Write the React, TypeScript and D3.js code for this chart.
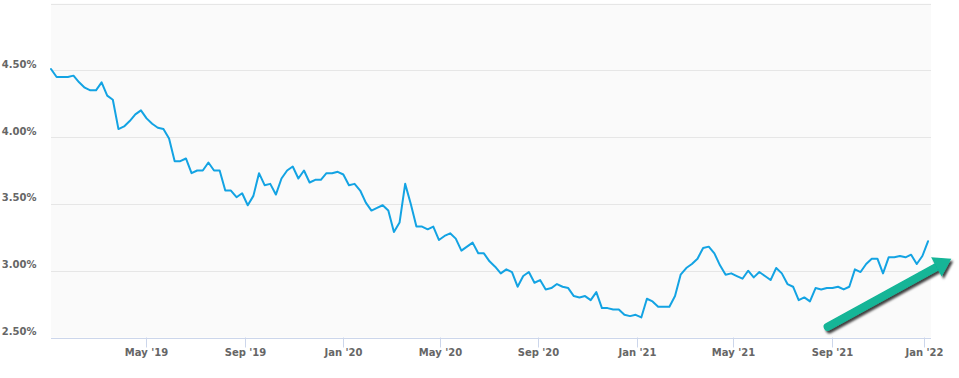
import React from "react";
import * as d3 from "d3";

const dates: string[] = [
  "2019-01-03","2019-01-10","2019-01-17","2019-01-24","2019-01-31","2019-02-07","2019-02-14","2019-02-21","2019-02-28",
  "2019-03-07","2019-03-14","2019-03-21","2019-03-28","2019-04-04","2019-04-11","2019-04-18","2019-04-25",
  "2019-05-02","2019-05-09","2019-05-16","2019-05-23","2019-05-30","2019-06-06","2019-06-13","2019-06-20","2019-06-27",
  "2019-07-03","2019-07-11","2019-07-18","2019-07-25","2019-08-01","2019-08-08","2019-08-15","2019-08-22","2019-08-29",
  "2019-09-05","2019-09-12","2019-09-19","2019-09-26","2019-10-03","2019-10-10","2019-10-17","2019-10-24","2019-10-31",
  "2019-11-07","2019-11-14","2019-11-21","2019-11-27","2019-12-05","2019-12-12","2019-12-19","2019-12-26",
  "2020-01-02","2020-01-09","2020-01-16","2020-01-23","2020-01-30","2020-02-06","2020-02-13","2020-02-20","2020-02-27",
  "2020-03-05","2020-03-12","2020-03-19","2020-03-26","2020-04-02","2020-04-09","2020-04-16","2020-04-23","2020-04-30",
  "2020-05-07","2020-05-14","2020-05-21","2020-05-28","2020-06-04","2020-06-11","2020-06-18","2020-06-25",
  "2020-07-02","2020-07-09","2020-07-16","2020-07-23","2020-07-30","2020-08-06","2020-08-13","2020-08-20","2020-08-27",
  "2020-09-03","2020-09-10","2020-09-17","2020-09-24","2020-10-01","2020-10-08","2020-10-15","2020-10-22","2020-10-29",
  "2020-11-05","2020-11-12","2020-11-19","2020-11-25","2020-12-03","2020-12-10","2020-12-17","2020-12-23","2020-12-30",
  "2021-01-07","2021-01-14","2021-01-21","2021-01-28","2021-02-04","2021-02-11","2021-02-18","2021-02-25",
  "2021-03-04","2021-03-11","2021-03-18","2021-03-25","2021-04-01","2021-04-08","2021-04-15","2021-04-22","2021-04-29",
  "2021-05-06","2021-05-13","2021-05-20","2021-05-27","2021-06-03","2021-06-10","2021-06-17","2021-06-24",
  "2021-07-01","2021-07-08","2021-07-15","2021-07-22","2021-07-29","2021-08-05","2021-08-12","2021-08-19","2021-08-26",
  "2021-09-02","2021-09-09","2021-09-16","2021-09-23","2021-09-30","2021-10-07","2021-10-14","2021-10-21",
  "2021-11-04","2021-11-11","2021-11-18","2021-11-24","2021-12-02","2021-12-09","2021-12-16","2021-12-23","2021-12-30",
  "2022-01-06",
];

const rates: number[] = [
  4.51,4.45,4.45,4.45,4.46,4.41,4.37,4.35,4.35,
  4.41,4.31,4.28,4.06,4.08,4.12,4.17,4.20,
  4.14,4.10,4.07,4.06,3.99,3.82,3.82,3.84,3.73,
  3.75,3.75,3.81,3.75,3.75,3.60,3.60,3.55,3.58,
  3.49,3.56,3.73,3.64,3.65,3.57,3.69,3.75,3.78,
  3.69,3.75,3.66,3.68,3.68,3.73,3.73,3.74,
  3.72,3.64,3.65,3.60,3.51,3.45,3.47,3.49,3.45,
  3.29,3.36,3.65,3.50,3.33,3.33,3.31,3.33,3.23,
  3.26,3.28,3.24,3.15,3.18,3.21,3.13,3.13,
  3.07,3.03,2.98,3.01,2.99,2.88,2.96,2.99,2.91,
  2.93,2.86,2.87,2.90,2.88,2.87,2.81,2.80,2.81,
  2.78,2.84,2.72,2.72,2.71,2.71,2.67,2.66,2.67,
  2.65,2.79,2.77,2.73,2.73,2.73,2.81,2.97,
  3.02,3.05,3.09,3.17,3.18,3.13,3.04,2.97,2.98,
  2.96,2.94,3.00,2.95,2.99,2.96,2.93,3.02,
  2.98,2.90,2.88,2.78,2.80,2.77,2.87,2.86,2.87,
  2.87,2.88,2.86,2.88,3.01,2.99,3.05,3.09,
  3.09,2.98,3.10,3.10,3.11,3.10,3.12,3.05,3.11,
  3.22,
];

const yTicks: number[] = [2.5, 3.0, 3.5, 4.0, 4.5, 5.0];
const yLabelTicks: number[] = [2.5, 3.0, 3.5, 4.0, 4.5];

const arrowFrom = { date: "2021-08-27", value: 2.58 };
const arrowTo = { date: "2022-02-04", value: 3.09 };

const W = 959;
const H = 378;
const plotLeft = 51;
const plotRight = 931;
const lineRight = 928;
const plotTop = 3.5;
const plotBottom = 337.5;

export default function App() {
  const parsed = dates.map((s) => new Date(s + "T00:00:00Z"));
  const n = parsed.length;
  const step = (lineRight - plotLeft) / (n - 1);
  // ordinal-style time axis: points equally spaced
  const x = d3
    .scaleTime()
    .domain(parsed)
    .range(parsed.map((_, i) => plotLeft + i * step));
  const y = d3.scaleLinear().domain([2.5, 5.0]).range([plotBottom, plotTop]);

  const xTicks = d3.utcMonth
    .every(4)!
    .range(new Date(Date.UTC(2019, 0, 1)), new Date(Date.UTC(2022, 1, 1)))
    .filter((d) => d >= parsed[0] && d <= parsed[n - 1]);
  const fmt = d3.utcFormat("%b '%y");

  const line = d3
    .line<number>()
    .x((_, i) => x(parsed[i]))
    .y((v) => y(v));

  const ax0 = x(new Date(arrowFrom.date + "T00:00:00Z"));
  const ay0 = y(arrowFrom.value);
  const ax1 = x(new Date(arrowTo.date + "T00:00:00Z"));
  const ay1 = y(arrowTo.value);
  const dx = ax1 - ax0;
  const dy = ay1 - ay0;
  const len = Math.sqrt(dx * dx + dy * dy);
  const ux = dx / len;
  const uy = dy / len;
  const px = -uy;
  const py = ux;
  const headLen = 17;
  const headHalf = 11;
  const bx = ax1 - ux * headLen;
  const by = ay1 - uy * headLen;
  const headPts = [
    [ax1, ay1],
    [bx + px * headHalf, by + py * headHalf],
    [bx - px * headHalf, by - py * headHalf],
  ];
  const shaftEndX = bx + ux * 2;
  const shaftEndY = by + uy * 2;

  const font = "'DejaVu Sans', Verdana, sans-serif";

  return (
    <div style={{ position: "absolute", left: 0, top: 0 }}>
      <svg width={W} height={H} style={{ display: "block", background: "#fff" }}>
        <defs>
          <filter id="shadow" x="-20%" y="-20%" width="140%" height="160%">
            <feDropShadow dx="2" dy="2.5" stdDeviation="1.3" floodColor="#000" floodOpacity="0.75" />
          </filter>
        </defs>
        <rect x={plotLeft} y={plotTop} width={plotRight - plotLeft} height={plotBottom - plotTop} fill="#fafafa" />
        {yTicks.map((t) => (
          <line
            key={t}
            x1={plotLeft}
            x2={plotRight}
            y1={Math.round(y(t)) + 0.5}
            y2={Math.round(y(t)) + 0.5}
            stroke={t === 2.5 ? "#ccd6eb" : "#e6e6e6"}
            strokeWidth={1}
          />
        ))}
        {yLabelTicks.map((t) => (
          <text
            key={t}
            x={36.5}
            y={y(t) - 2.5}
            textAnchor="end"
            fontFamily={font}
            fontSize={10}
            fontWeight="bold"
            fill="#666"
          >
            {t.toFixed(2) + "%"}
          </text>
        ))}
        {xTicks.map((d) => {
          const xx = Math.round(x(d)) + 0.5;
          return (
            <g key={d.toISOString()}>
              <line x1={xx} x2={xx} y1={plotBottom} y2={plotBottom + 10} stroke="#ccd6eb" strokeWidth={1} />
              <text
                x={xx}
                y={356}
                textAnchor="middle"
                fontFamily={font}
                fontSize={10}
                fontWeight="bold"
                fill="#666"
              >
                {fmt(d)}
              </text>
            </g>
          );
        })}
        <path d={line(rates) || ""} fill="none" stroke="#13a3e3" strokeWidth={2} strokeLinejoin="round" strokeLinecap="round" />
        <g filter="url(#shadow)">
          <line
            x1={ax0}
            y1={ay0}
            x2={shaftEndX}
            y2={shaftEndY}
            stroke="#12b597"
            strokeWidth={8}
            strokeLinecap="round"
          />
          <polygon points={headPts.map((p) => p.join(",")).join(" ")} fill="#12b597" />
        </g>
      </svg>
    </div>
  );
}
